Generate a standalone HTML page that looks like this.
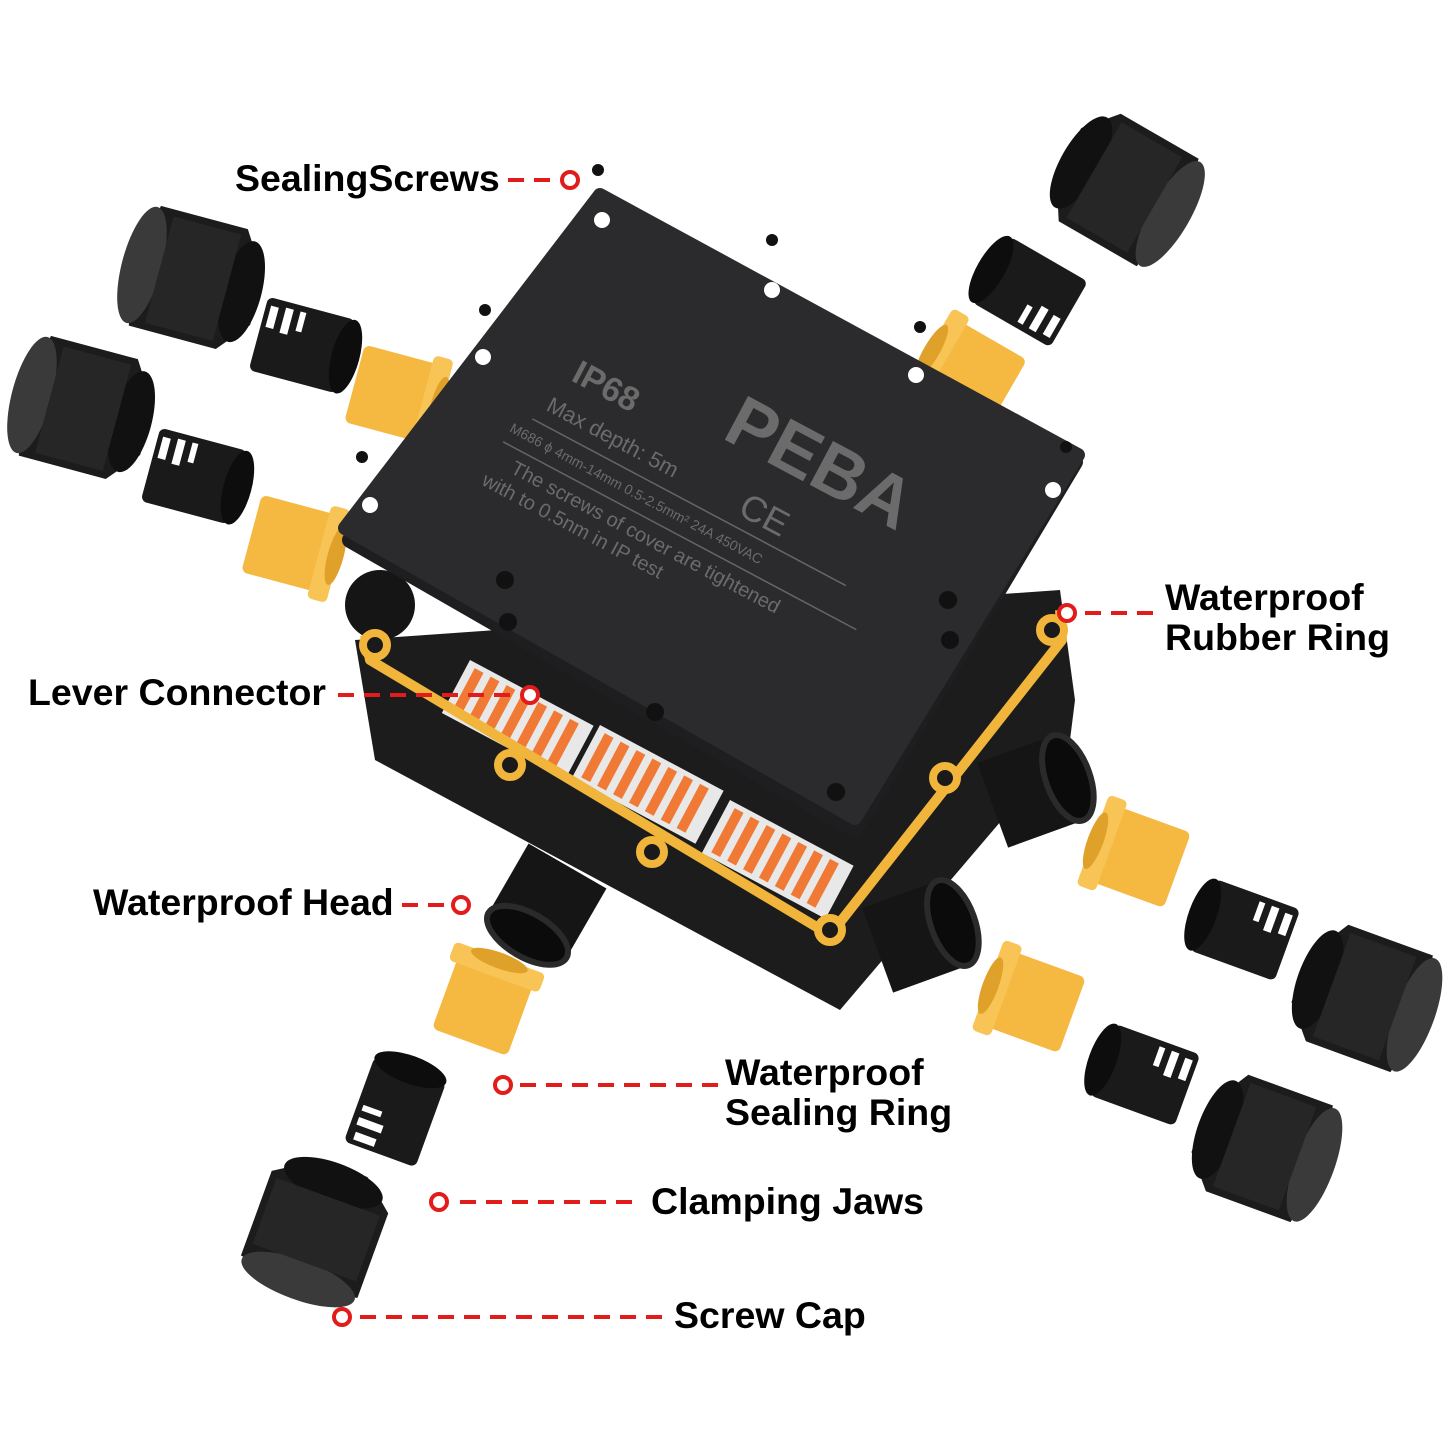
<!DOCTYPE html>
<html><head><meta charset="utf-8"><style>
html,body{margin:0;padding:0;background:#fff;width:1445px;height:1445px;overflow:hidden}
svg{display:block}
.lb{font-family:"Liberation Sans",Arial,sans-serif;font-weight:bold;font-size:37.5px;fill:#000}
.lt{font-family:"Liberation Sans",Arial,sans-serif;fill:#6b6b6b}
</style></head><body>
<svg width="1445" height="1445" viewBox="0 0 1445 1445" xmlns="http://www.w3.org/2000/svg">
<defs>
<g id="cap"><polygon points="-55,-62 35,-62 62,-20 62,30 35,62 -55,62 -62,30 -62,-20" fill="#1c1c1c"/><ellipse cx="-58" cy="0" rx="20" ry="60" fill="#3a3a3a"/><ellipse cx="45" cy="0" rx="20" ry="52" fill="#111"/><rect x="-40" y="-55" width="70" height="110" fill="#262626"/></g>
<g id="jaw"><rect x="-45" y="-38" width="90" height="76" rx="6" fill="#1a1a1a"/><ellipse cx="45" cy="0" rx="14" ry="38" fill="#0d0d0d"/><rect x="-40" y="-30" width="8" height="22" fill="#fff"/><rect x="-25" y="-32" width="8" height="26" fill="#fff"/><rect x="-10" y="-32" width="6" height="20" fill="#fff"/></g>
<g id="yel"><rect x="-45" y="-40" width="80" height="80" rx="6" fill="#f5b841"/><rect x="25" y="-48" width="20" height="96" rx="5" fill="#f8c455"/><ellipse cx="42" cy="0" rx="8" ry="30" fill="#e0a12a"/></g>
<g id="thr"><rect x="-45" y="-45" width="80" height="90" fill="#151515"/><ellipse cx="35" cy="0" rx="22" ry="45" fill="#0b0b0b" stroke="#2a2a2a" stroke-width="6"/></g>
</defs>

<g transform="translate(198,280) rotate(15)"><use href="#cap"/></g>
<g transform="translate(88,410) rotate(15)"><use href="#cap"/></g>
<g transform="translate(302,345) rotate(15)"><use href="#jaw"/></g>
<g transform="translate(194,476) rotate(15)"><use href="#jaw"/></g>
<g transform="translate(398,395) rotate(15)"><use href="#yel"/></g>
<g transform="translate(295,545) rotate(15)"><use href="#yel"/></g>
<g transform="translate(1120,185) rotate(-150)"><use href="#cap"/></g>
<g transform="translate(1030,292) rotate(-150)"><use href="#jaw"/></g>
<g transform="translate(968,372) rotate(-150)"><use href="#yel"/></g>

<polygon points="355,640 1060,590 1075,700 1070,740 840,1010 375,760" fill="#1c1c1c"/>
<g transform="translate(545,905) rotate(120)"><use href="#thr"/></g>
<g transform="translate(1035,790) rotate(-20)"><use href="#thr"/></g>
<g transform="translate(920,935) rotate(-20)"><use href="#thr"/></g>
<g transform="translate(380,605)"><circle r="35" fill="#151515"/></g>
<g transform="translate(470,660) rotate(28)"><rect width="140" height="60" fill="#e8e8e8"/><g fill="#f07a35"><rect x="8" y="5" width="10" height="50"/><rect x="26" y="5" width="10" height="50"/><rect x="44" y="5" width="10" height="50"/><rect x="62" y="5" width="10" height="50"/><rect x="80" y="5" width="10" height="50"/><rect x="98" y="5" width="10" height="50"/><rect x="116" y="5" width="10" height="50"/></g></g>
<g transform="translate(600,725) rotate(28)"><rect width="140" height="60" fill="#e8e8e8"/><g fill="#f07a35"><rect x="8" y="5" width="10" height="50"/><rect x="26" y="5" width="10" height="50"/><rect x="44" y="5" width="10" height="50"/><rect x="62" y="5" width="10" height="50"/><rect x="80" y="5" width="10" height="50"/><rect x="98" y="5" width="10" height="50"/><rect x="116" y="5" width="10" height="50"/></g></g>
<g transform="translate(730,800) rotate(28)"><rect width="140" height="60" fill="#e8e8e8"/><g fill="#f07a35"><rect x="8" y="5" width="10" height="50"/><rect x="26" y="5" width="10" height="50"/><rect x="44" y="5" width="10" height="50"/><rect x="62" y="5" width="10" height="50"/><rect x="80" y="5" width="10" height="50"/><rect x="98" y="5" width="10" height="50"/><rect x="116" y="5" width="10" height="50"/></g></g>
<path d="M1060,610 L1062,640 L830,935 L370,660 L365,635" fill="none" stroke="#f0b53a" stroke-width="10" stroke-linejoin="round"/>
<g fill="#1a1a1a" stroke="#f0b53a" stroke-width="8"><circle cx="375" cy="645" r="12"/><circle cx="510" cy="765" r="12"/><circle cx="652" cy="852" r="12"/><circle cx="830" cy="930" r="12"/><circle cx="945" cy="778" r="12"/><circle cx="1052" cy="630" r="12"/></g>

<path d="M600,205 L1075,462 L855,830 L350,540 Z" fill="#1e1e20" stroke="#1e1e20" stroke-width="16" stroke-linejoin="round"/>
<path d="M600,195 L1078,455 L855,818 L345,528 Z" fill="#2b2b2d" stroke="#2b2b2d" stroke-width="14" stroke-linejoin="round"/>
<g fill="#fff"><circle cx="602" cy="220" r="8"/><circle cx="772" cy="290" r="8"/><circle cx="916" cy="375" r="8"/><circle cx="1053" cy="490" r="8"/><circle cx="483" cy="357" r="8"/><circle cx="370" cy="505" r="8"/></g>
<g fill="#111"><circle cx="505" cy="580" r="9"/><circle cx="508" cy="622" r="9"/><circle cx="655" cy="712" r="9"/><circle cx="836" cy="792" r="9"/><circle cx="948" cy="600" r="9"/><circle cx="950" cy="640" r="9"/></g>
<g transform="translate(570,380) rotate(28)">
<text class="lt" x="0" y="0" font-size="34" font-weight="bold">IP68</text>
<text class="lt" x="-8" y="38" font-size="22">Max depth: 5m</text>
<line x1="-15" y1="52" x2="340" y2="52" stroke="#666" stroke-width="1.5"/>
<text class="lt" x="-30" y="74" font-size="14">M686    ϕ 4mm-14mm   0.5-2.5mm²   24A   450VAC</text>
<line x1="-30" y1="86" x2="370" y2="86" stroke="#666" stroke-width="1.5"/>
<text class="lt" x="-10" y="110" font-size="20">The screws of cover are tightened</text>
<text class="lt" x="-30" y="134" font-size="20">with to 0.5nm in IP test</text>
<text class="lt" x="160" y="-20" font-size="72" font-weight="bold" fill="#5e5e5e">PEBA</text>
<text class="lt" x="210" y="40" font-size="36">CE</text>
</g>
<g fill="#111"><circle cx="598" cy="170" r="6"/><circle cx="772" cy="240" r="6"/><circle cx="485" cy="310" r="6"/><circle cx="920" cy="327" r="6"/><circle cx="362" cy="457" r="6"/><circle cx="1066" cy="447" r="6"/></g>

<g transform="translate(1135,855) rotate(20)"><use href="#yel" transform="scale(-1,1)"/></g>
<g transform="translate(1245,930) rotate(20)"><use href="#jaw" transform="scale(-1,1)"/></g>
<g transform="translate(1360,995) rotate(20)"><use href="#cap" transform="scale(-1,1)"/></g>
<g transform="translate(1030,1000) rotate(20)"><use href="#yel" transform="scale(-1,1)"/></g>
<g transform="translate(1145,1075) rotate(20)"><use href="#jaw" transform="scale(-1,1)"/></g>
<g transform="translate(1260,1145) rotate(20)"><use href="#cap" transform="scale(-1,1)"/></g>
<g transform="translate(485,1000) rotate(-70)"><use href="#yel"/></g>
<g transform="translate(395,1112) rotate(-70)"><use href="#jaw"/></g>
<g transform="translate(318,1225) rotate(-70)"><use href="#cap"/></g>

<g stroke="#e21b1b" stroke-width="4" stroke-dasharray="16,10" fill="none">
<line x1="508" y1="180" x2="560" y2="180"/>
<line x1="1085" y1="613" x2="1158" y2="613"/>
<line x1="338" y1="695" x2="520" y2="695"/>
<line x1="402" y1="905" x2="450" y2="905"/>
<line x1="520" y1="1085" x2="718" y2="1085"/>
<line x1="460" y1="1202" x2="638" y2="1202"/>
<line x1="360" y1="1317" x2="666" y2="1317"/>
</g>
<g stroke="#e21b1b" stroke-width="4" fill="#fff">
<circle cx="570" cy="180" r="8"/><circle cx="1067" cy="613" r="8"/><circle cx="530" cy="695" r="8"/><circle cx="461" cy="905" r="8"/><circle cx="503" cy="1085" r="8"/><circle cx="439" cy="1202" r="8"/><circle cx="342" cy="1317" r="8"/>
</g>
<text class="lb" x="235" y="191">SealingScrews</text>
<text class="lb" x="1165" y="610">Waterproof</text>
<text class="lb" x="1165" y="650">Rubber Ring</text>
<text class="lb" x="28" y="705">Lever Connector</text>
<text class="lb" x="93" y="915">Waterproof Head</text>
<text class="lb" x="725" y="1085">Waterproof</text>
<text class="lb" x="725" y="1125">Sealing Ring</text>
<text class="lb" x="651" y="1214">Clamping Jaws</text>
<text class="lb" x="674" y="1328">Screw Cap</text>
</svg>
</body></html>
